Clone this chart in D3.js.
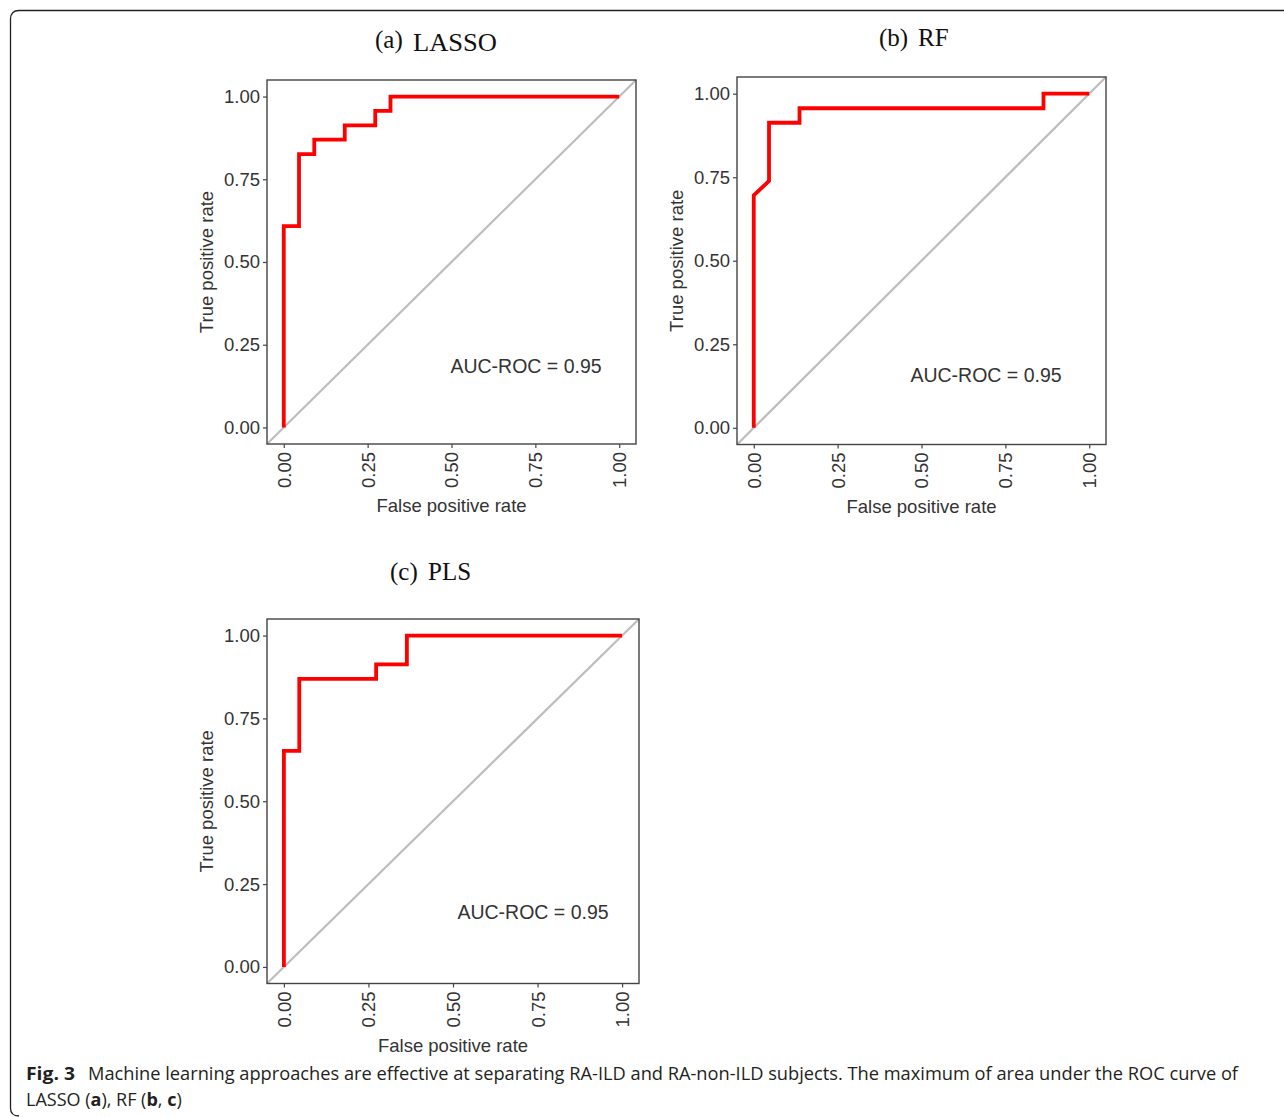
<!DOCTYPE html>
<html><head><meta charset="utf-8">
<script src="https://cdn.jsdelivr.net/npm/d3@7"></script>
<style>body{margin:0;background:#fff}svg{display:block}</style>
</head><body>
<script>
// ROC data (false positive rate, true positive rate)
const lassoFPR = [0, 0, 1/22, 1/22, 2/22, 2/22, 4/22, 4/22, 6/22, 6/22, 7/22, 7/22, 1];
const lassoTPR = [0, 14/23, 14/23, 19/23, 19/23, 20/23, 20/23, 21/23, 21/23, 22/23, 22/23, 1, 1];
const rfFPR = [0, 0, 1/22, 1/22, 3/22, 3/22, 19/22, 19/22, 1];
const rfTPR = [0, 16/23, 17/23, 21/23, 21/23, 22/23, 22/23, 1, 1];
const plsFPR = [0, 0, 1/22, 1/22, 6/22, 6/22, 8/22, 8/22, 1];
const plsTPR = [0, 15/23, 15/23, 20/23, 20/23, 21/23, 21/23, 1, 1];
const panelTitles = ["(a)", "(b)", "(c)"];
const panelNames = ["LASSO", "RF", "PLS"];
const aucLabels = ["AUC-ROC = 0.95", "AUC-ROC = 0.95", "AUC-ROC = 0.95"];
const tickValues = [0, 0.25, 0.5, 0.75, 1];
const tickLabels = ["0.00", "0.25", "0.50", "0.75", "1.00"];
const xTitle = "False positive rate";
const yTitle = "True positive rate";
const captionBold = "Fig. 3";
const captionLine1 = "Machine learning approaches are effective at separating RA-ILD and RA-non-ILD subjects. The maximum of area under the ROC curve of";

const W = 1284, H = 1117;
const svg = d3.select("body").append("svg").attr("width", W).attr("height", H);

// outer frame
svg.append("path")
  .attr("d", "M 1300 10.5 L 19 10.5 Q 10.5 10.5 10.5 19 L 10.5 1108 Q 10.5 1116 19 1116")
  .attr("fill", "none").attr("stroke", "#222").attr("stroke-width", 1.3);

const panels = [
  {fpr: lassoFPR, tpr: lassoTPR, box: [267, 636, 80, 444], auc: [526, 373],
   t1: [375, 48, null], t2: [413, 51, 84]},
  {fpr: rfFPR, tpr: rfTPR, box: [737, 1106, 77, 444.5], auc: [986, 382],
   t1: [879, 46, null], t2: [918, 46, null]},
  {fpr: plsFPR, tpr: plsTPR, box: [267, 639, 619, 983.5], auc: [533, 919],
   t1: [390, 580, null], t2: [428, 580, null]}
];

const fontSans = "Liberation Sans, Arial, sans-serif";
const textCol = "#333";

panels.forEach((p, i) => {
  const [L, R, T, B] = p.box;
  const x = d3.scaleLinear().domain([-0.05, 1.05]).range([L, R]);
  const y = d3.scaleLinear().domain([-0.05, 1.05]).range([B, T]);
  const g = svg.append("g");

  // diagonal reference line across full panel
  g.append("line")
    .attr("x1", x(-0.05)).attr("y1", y(-0.05)).attr("x2", x(1.05)).attr("y2", y(1.05))
    .attr("stroke", "#bdbdbd").attr("stroke-width", 2.2);

  const pts = p.fpr.map((v, k) => [v, p.tpr[k]]);
  g.append("path").datum(pts)
    .attr("d", d3.line().x(d => x(d[0])).y(d => y(d[1])))
    .attr("fill", "none").attr("stroke", "#ff0000").attr("stroke-width", 3.8)
    .attr("stroke-linejoin", "miter");

  // panel border
  g.append("rect").attr("x", L).attr("y", T).attr("width", R - L).attr("height", B - T)
    .attr("fill", "none").attr("stroke", "#444").attr("stroke-width", 1.4);

  // axes
  const xa = g.append("g").attr("transform", `translate(0,${B})`)
    .call(d3.axisBottom(x).tickValues(tickValues).tickFormat((d, k) => tickLabels[k]).tickSize(4).tickPadding(4));
  xa.select(".domain").remove();
  xa.selectAll("line").attr("stroke", "#444").attr("stroke-width", 1.2);
  xa.selectAll("text")
    .attr("font-family", fontSans).attr("font-size", 18.5).attr("fill", textCol)
    .attr("transform", "rotate(-90)").attr("text-anchor", "end")
    .attr("x", -8).attr("y", 0).attr("dy", "0.35em");

  const ya = g.append("g").attr("transform", `translate(${L},0)`)
    .call(d3.axisLeft(y).tickValues(tickValues).tickFormat((d, k) => tickLabels[k]).tickSize(4).tickPadding(3));
  ya.select(".domain").remove();
  ya.selectAll("line").attr("stroke", "#444").attr("stroke-width", 1.2);
  ya.selectAll("text").attr("font-family", fontSans).attr("font-size", 18.5).attr("fill", textCol);

  // axis titles
  g.append("text").attr("x", (L + R) / 2).attr("y", B + 68)
    .attr("text-anchor", "middle").attr("font-family", fontSans).attr("font-size", 18.5)
    .attr("fill", textCol).text(xTitle);
  g.append("text").attr("transform", `translate(${L - 54},${(y(0) + y(1)) / 2}) rotate(-90)`)
    .attr("text-anchor", "middle").attr("font-family", fontSans).attr("font-size", 18.5)
    .attr("fill", textCol).text(yTitle);

  // AUC annotation
  g.append("text").attr("x", p.auc[0]).attr("y", p.auc[1])
    .attr("text-anchor", "middle").attr("font-family", fontSans).attr("font-size", 19.5)
    .attr("fill", textCol).text(aucLabels[i]);

  // panel title
  g.append("text").attr("x", p.t1[0]).attr("y", p.t1[1])
    .attr("font-family", "Liberation Serif, Times New Roman, serif").attr("font-size", 25)
    .attr("fill", "#111").text(panelTitles[i]);
  const t2 = g.append("text").attr("x", p.t2[0]).attr("y", p.t2[1])
    .attr("font-family", "Liberation Serif, Times New Roman, serif").attr("font-size", 25)
    .attr("fill", "#111").text(panelNames[i]);
  if (p.t2[2]) t2.attr("textLength", p.t2[2]).attr("lengthAdjust", "spacingAndGlyphs");
});

// caption
const capFont = "Open Sans, Noto Sans, sans-serif";
svg.append("text").attr("x", 26).attr("y", 1080)
  .attr("font-family", capFont).attr("font-size", 18).attr("font-weight", "bold")
  .attr("fill", "#231f20").attr("textLength", 49).attr("lengthAdjust", "spacingAndGlyphs")
  .text(captionBold);
svg.append("text").attr("x", 88).attr("y", 1080)
  .attr("font-family", capFont).attr("font-size", 18)
  .attr("fill", "#231f20").attr("textLength", 1150).attr("lengthAdjust", "spacingAndGlyphs")
  .text(captionLine1);
const l2 = svg.append("text").attr("x", 26).attr("y", 1106)
  .attr("font-family", capFont).attr("font-size", 18).attr("fill", "#231f20");
l2.append("tspan").text("LASSO (");
l2.append("tspan").attr("font-weight", "bold").text("a");
l2.append("tspan").text("), RF (");
l2.append("tspan").attr("font-weight", "bold").text("b");
l2.append("tspan").text(", ");
l2.append("tspan").attr("font-weight", "bold").text("c");
l2.append("tspan").text(")");
</script>
</body></html>
